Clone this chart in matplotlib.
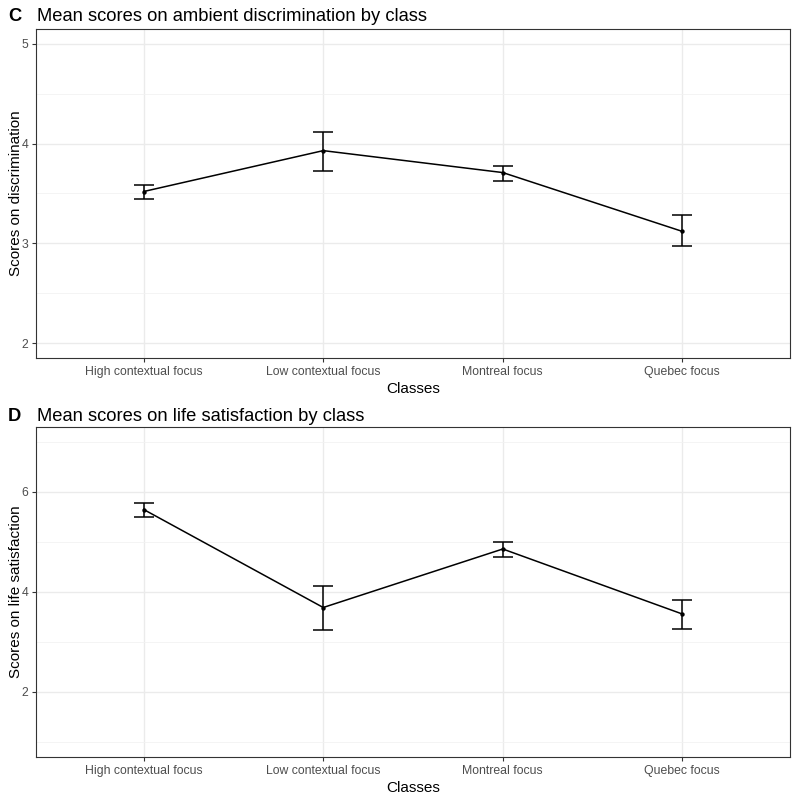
import matplotlib
matplotlib.use("Agg")
import matplotlib.pyplot as plt
from matplotlib.ticker import MultipleLocator

plt.rcParams["font.family"] = ["Liberation Sans", "DejaVu Sans"]

classes = ["High contextual focus", "Low contextual focus", "Montreal focus", "Quebec focus"]

# panel C: ambient discrimination
disc_mean = [3.52, 3.93, 3.71, 3.12]
disc_low = [3.44, 3.73, 3.63, 2.97]
disc_high = [3.59, 4.12, 3.78, 3.28]

# panel D: life satisfaction
life_mean = [5.65, 3.69, 4.86, 3.56]
life_low = [5.51, 3.25, 4.71, 3.27]
life_high = [5.78, 4.12, 5.01, 3.85]

W, H = 796, 797
fig = plt.figure(figsize=(W / 100, H / 100), dpi=100)

GRID = "#EBEBEB"
DARK = "#333333"
TICKTXT = "#4D4D4D"


def panel(top, bottom, title_base, letter, title, ylabel, mean, lo, hi, ylim, major, minor):
    left, right = 36, 790
    ax = fig.add_axes([left / W, 1 - bottom / H, (right - left) / W, (bottom - top) / H])
    x = list(range(1, len(classes) + 1))
    ax.plot(x, mean, color="black", lw=1.1, zorder=3)
    ax.vlines(x, lo, hi, color="black", lw=1.1, zorder=3)
    ax.hlines(lo, [v - 0.055 for v in x], [v + 0.055 for v in x], color="black", lw=1.1, zorder=3)
    ax.hlines(hi, [v - 0.055 for v in x], [v + 0.055 for v in x], color="black", lw=1.1, zorder=3)
    ax.scatter(x, mean, s=10, color="black", zorder=4, linewidths=0)
    ax.set_xlim(0.4, 4.6)
    ax.set_ylim(*ylim)
    ax.set_xticks(x)
    ax.set_xticklabels(classes)
    ax.yaxis.set_major_locator(MultipleLocator(major))
    ax.yaxis.set_minor_locator(MultipleLocator(minor))
    ax.xaxis.set_minor_locator(plt.NullLocator())
    ax.grid(True, which="major", color=GRID, lw=1.0, zorder=0)
    ax.grid(True, which="minor", axis="y", color="#F2F2F2", lw=0.6, zorder=0)
    ax.set_axisbelow(True)
    for s in ax.spines.values():
        s.set_color(DARK)
        s.set_linewidth(0.8)
    ax.tick_params(axis="both", which="major", length=3, width=0.8, color=DARK,
                   labelsize=8.8, labelcolor=TICKTXT, pad=2.5)
    ax.tick_params(axis="y", which="minor", length=0)
    ax.set_xlabel("Classes", fontsize=11, labelpad=3)
    ax.set_ylabel(ylabel, fontsize=11, labelpad=-1)
    ty = 1 - title_base / H
    fig.text(8 / W, ty, letter, fontsize=13.2, fontweight="bold", va="baseline", ha="left")
    fig.text(37 / W, ty, title, fontsize=13.2, va="baseline", ha="left")
    return ax


panel(29, 358, 21, "C", "Mean scores on ambient discrimination by class",
      "Scores on discrimination", disc_mean, disc_low, disc_high,
      (1.85, 5.15), 1, 0.5)
panel(427, 757, 421, "D", "Mean scores on life satisfaction by class",
      "Scores on life satisfaction", life_mean, life_low, life_high,
      (0.7, 7.3), 2, 1)

fig.savefig("out.png", dpi=100, facecolor="white")
